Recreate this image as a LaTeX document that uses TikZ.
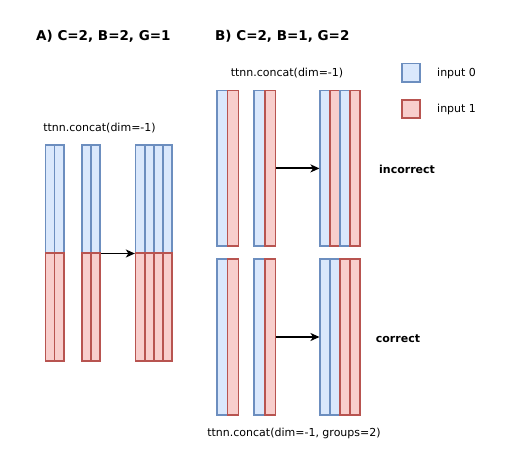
\documentclass[tikz,border=0pt]{standalone}
\usepackage{fontspec}
\setmainfont{DejaVu Sans}
\usetikzlibrary{arrows.meta}
\definecolor{blue0}{HTML}{DAE8FC}
\definecolor{blue0line}{HTML}{6C8EBF}
\definecolor{red1}{HTML}{F8CECC}
\definecolor{red1line}{HTML}{B85450}

\begin{document}
\begin{tikzpicture}[x=1pt,y=-1pt,
    cell/.style={rectangle,draw,inner sep=0pt,line width=1.6pt},
    in0/.style={cell,fill=blue0,draw=blue0line},
    in1/.style={cell,fill=red1,draw=red1line},
    acell/.style={minimum width=9.1pt,minimum height=108pt},
    bcell/.style={minimum width=10.8pt,minimum height=155.5pt},
    ccell/.style={minimum width=9.85pt,minimum height=155.5pt},
    txt/.style={inner sep=0pt,font=\fontsize{11}{13}\selectfont},
    head/.style={inner sep=0pt,font=\fontsize{13.5}{16}\selectfont\bfseries},
    arr/.style={-{Stealth[length=9pt,width=8pt,inset=2.5pt]},line width=1.9pt}]
        \useasboundingbox (0,0) rectangle (510,468);
        % part A
        \node[head,anchor=west](ta) at (36,36) {A) C=2, B=2, G=1};
        \node[txt](la) at (99.5,128) {ttnn.concat(dim=-1)};
        \node[in0,acell](a1t1) at (50.2,198.7) {};
        \node[in0,acell](a1t2) at (59.2,198.7) {};
        \node[in1,acell](a1b1) at (50.2,306.7) {};
        \node[in1,acell](a1b2) at (59.2,306.7) {};
        \node[in0,acell](a2t1) at (86.3,198.7) {};
        \node[in0,acell](a2t2) at (95.4,198.7) {};
        \node[in1,acell](a2b1) at (86.3,306.7) {};
        \node[in1,acell](a2b2) at (95.4,306.7) {};
        \node[in0,acell](a3t1) at (140.2,198.7) {};
        \node[in0,acell](a3t2) at (149.3,198.7) {};
        \node[in0,acell](a3t3) at (158.4,198.7) {};
        \node[in0,acell](a3t4) at (167.5,198.7) {};
        \node[in1,acell](a3b1) at (140.2,306.7) {};
        \node[in1,acell](a3b2) at (149.3,306.7) {};
        \node[in1,acell](a3b3) at (158.4,306.7) {};
        \node[in1,acell](a3b4) at (167.5,306.7) {};
        \draw[arr](a2t2.south east)--(a3t1.south west);
        % part B
        \node[head,anchor=west](tb) at (215,36.7) {B) C=2, B=1, G=2};
        \node[txt](lb) at (287,73) {ttnn.concat(dim=-1)};
        \node[in0,bcell](b1a) at (222.1,168.4) {};
        \node[in1,bcell](b1b) at (232.9,168.4) {};
        \node[in0,bcell](b2a) at (259.1,168.4) {};
        \node[in1,bcell](b2b) at (270.1,168.4) {};
        \node[in0,ccell](b3a) at (325.2,168.4) {};
        \node[in1,ccell](b3b) at (335.1,168.4) {};
        \node[in0,ccell](b3c) at (344.9,168.4) {};
        \node[in1,ccell](b3d) at (354.8,168.4) {};
        \draw[arr](b2b.east)--(b3a.west);
        \node[txt,anchor=west,font=\fontsize{11}{13}\selectfont\bfseries](wrong) at (379,169) {incorrect};
        \node[in0,bcell](c1a) at (222.1,337) {};
        \node[in1,bcell](c1b) at (232.9,337) {};
        \node[in0,bcell](c2a) at (259.1,337) {};
        \node[in1,bcell](c2b) at (270.1,337) {};
        \node[in0,ccell](c3a) at (325.2,337) {};
        \node[in0,ccell](c3b) at (335.1,337) {};
        \node[in1,ccell](c3c) at (344.9,337) {};
        \node[in1,ccell](c3d) at (354.8,337) {};
        \draw[arr](c2b.east)--(c3a.west);
        \node[txt,anchor=west,font=\fontsize{11}{13}\selectfont\bfseries](right) at (375.7,338.3) {correct};
        \node[txt](lc) at (294,433.3) {ttnn.concat(dim=-1, groups=2)};
        % legend
        \node[in0,minimum size=18.5pt](k0) at (411,72.7) {};
        \node[in1,minimum size=18.5pt](k1) at (411,109) {};
        \node[txt,anchor=west](k0t) at (437,73.3) {input 0};
        \node[txt,anchor=west](k1t) at (437,109) {input 1};
        \end{tikzpicture}
\end{document}
